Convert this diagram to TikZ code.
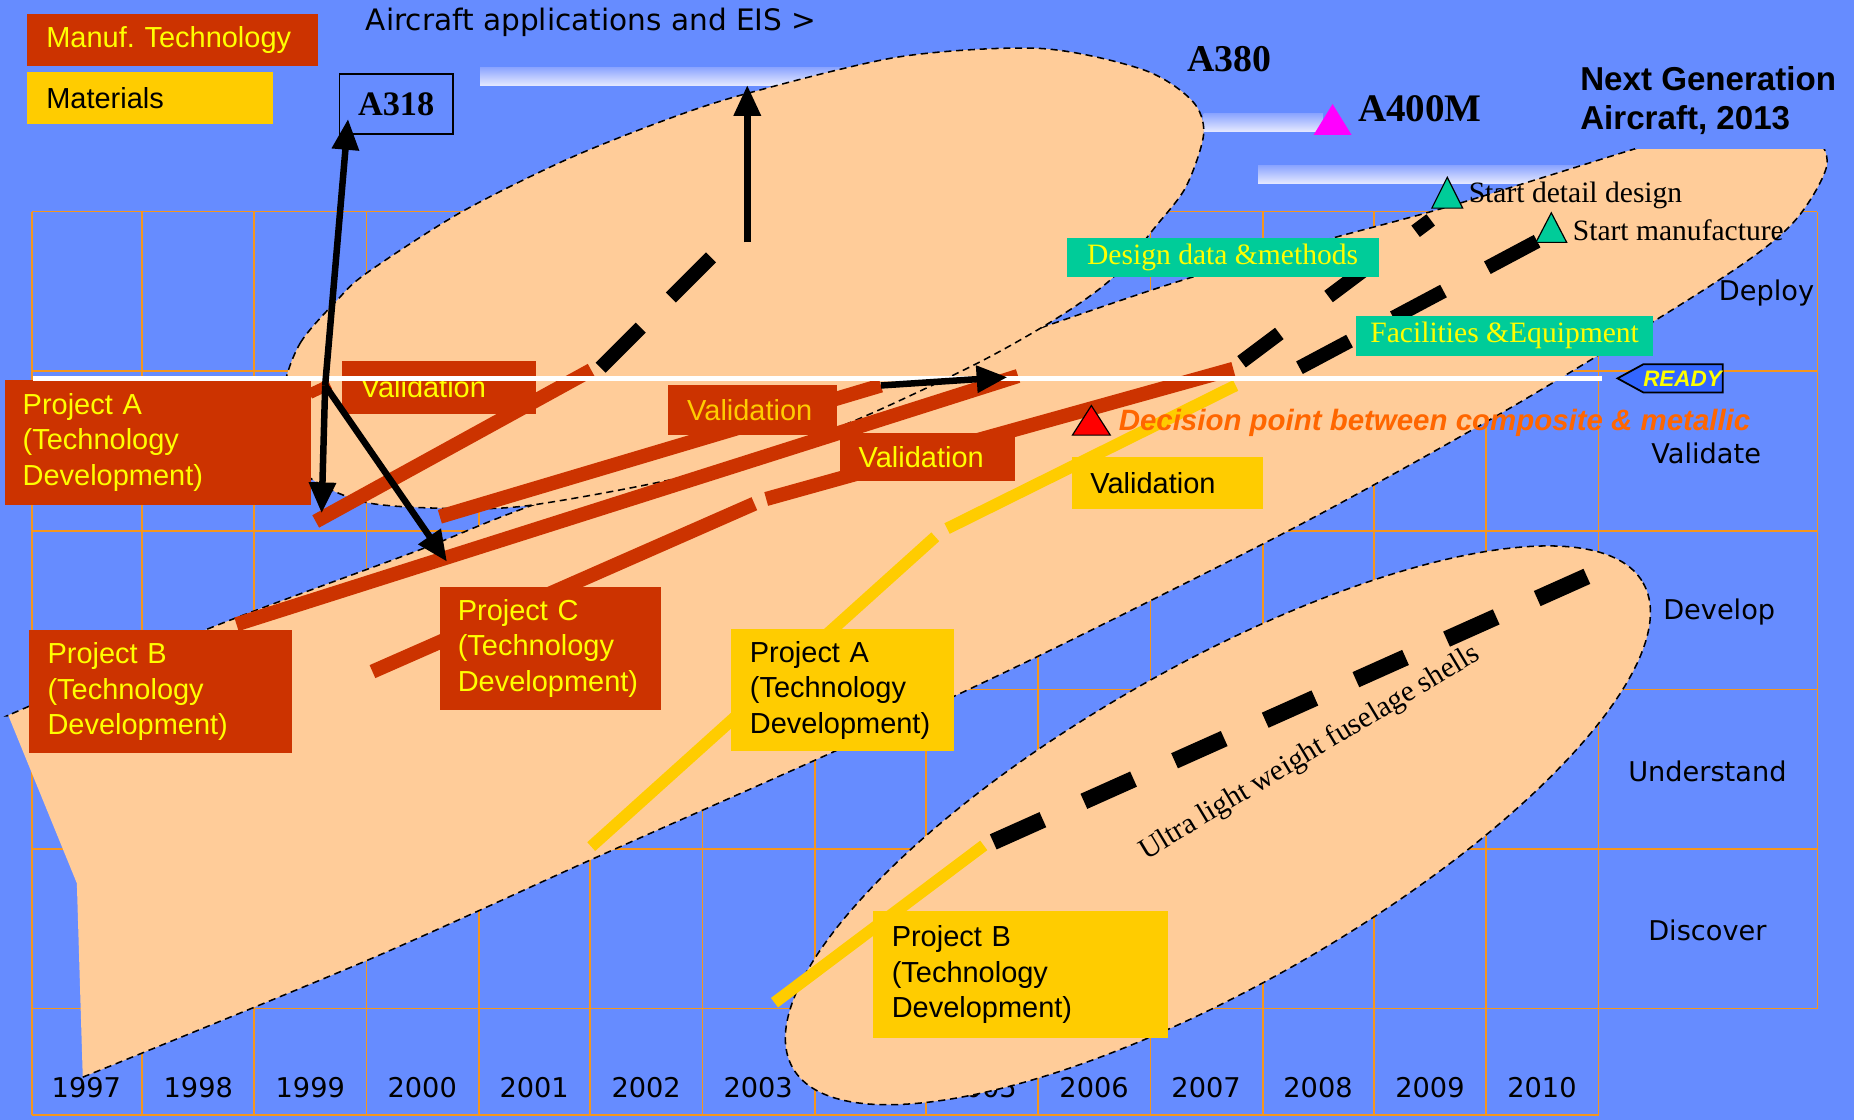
\documentclass[tikz,border=0pt]{standalone}
\usepackage{fontspec}
\setmainfont{Liberation Sans}
\newfontfamily\timesf{Liberation Serif}
\newfontfamily\verdf{DejaVu Sans}
\usetikzlibrary{arrows.meta, positioning}

\definecolor{bgblue}{RGB}{102,140,255}
\definecolor{peach}{RGB}{255,204,153}
\definecolor{manuf}{RGB}{204,51,0}
\definecolor{mater}{RGB}{255,204,0}
\definecolor{tealbox}{RGB}{0,204,153}
\definecolor{gridorange}{RGB}{245,150,30}
\definecolor{txtyellow}{RGB}{255,255,0}
\definecolor{decision}{RGB}{255,102,0}
\definecolor{readyblue}{RGB}{51,102,255}
\definecolor{barblue}{RGB}{140,165,255}
\definecolor{barlight}{RGB}{228,232,255}
\definecolor{milepink}{RGB}{255,0,255}

\newcommand\fsz[2]{\fontsize{#1}{#2}\selectfont}

\begin{document}
\begin{tikzpicture}[x=1pt, y=-1pt]
  \tikzset{
    gridln/.style={draw=gridorange, line width=1.4pt},
    rim/.style={draw=black, line width=1.3pt, dash pattern=on 6pt off 4pt},
    lightbar/.style={top color=barblue, bottom color=barlight},
    redbar/.style={draw=manuf, line width=12pt},
    goldbar/.style={draw=mater, line width=10pt},
    milestone/.style={draw=black, line width=12pt},
    bigarrow/.style={draw=black, line width=5.5pt, -{Triangle[length=26pt,width=22pt]}},
    techbox/.style={anchor=north west, inner ysep=0pt, align=left, font=\fsz{24.5}{30}},
    redbox/.style={techbox, fill=manuf, text=txtyellow},
    goldbox/.style={techbox, fill=mater, text=black},
    tealnote/.style={fill=tealbox, text=txtyellow, font=\timesf\fsz{25}{30}, inner sep=0pt},
    plane/.style={font=\timesf\bfseries\fsz{31}{36}},
    phase/.style={font=\verdf\fsz{23}{28}},
    marker/.style={draw=black, line width=1pt},
  }
  \useasboundingbox (0,0) rectangle (1568,947);
  \fill[bgblue] (0,0) rectangle (1568,947);

  % grid
  \foreach \gx in {27,120,215,310,405,499,594,689,783,878,973,1068,1162,1257,1352}
    \draw[gridln] (\gx,179) -- (\gx,943);
  \draw[gridln] (1537,179) -- (1537,853);
  \foreach \gy in {179,314,449,583,718,853}
    \draw[gridln] (27,\gy) -- (1537,\gy);
  \draw[gridln] (27,943) -- (1352,943);

  \foreach \yr [count=\i from 0] in {1997,...,2010}
    \node[phase] (y\yr) at ({73+94.7*\i},920) {\yr};

  % light bars
  \shade[lightbar] (406,57) rectangle (800,72);
  \shade[lightbar] (1018,96) rectangle (1119,111);
  \shade[lightbar] (1064,140) rectangle (1400,155);

  % envelopes
  \fill[peach] plot[smooth] coordinates {(70,911) (311,812) (500,727) (709,634) (878,555) (1099,444) (1279,344) (1449,240) (1515,190) (1545,140) (1530,112) (1480,106) (1420,115) (1379,127) (1224,175) (1121,203) (981,243) (700,340) (451,427) (355,465) (178,531) (23,598) (7,605)} -- (65,747) -- cycle;
  \draw[rim] plot[smooth] coordinates {(70,911) (311,812) (500,727) (709,634) (878,555) (1099,444) (1279,344) (1449,240) (1515,190) (1545,140) (1530,112) (1480,106) (1420,115) (1379,127) (1224,175) (1121,203) (981,243) (700,340) (451,427) (355,465) (178,531) (23,598) (7,605)};
  \filldraw[fill=peach, rim] plot[smooth cycle] coordinates {(240,330) (254,290) (285,254) (310,231) (389,180) (479,135) (564,101) (632,79) (761,48) (880,41) (967,59) (1008,85) (1018,113) (1003,158) (977,192) (941,235) (894,269) (823,309) (710,361) (592,400) (451,427) (381,430) (310,425) (262,404) (245,375)};
  \filldraw[fill=peach, rim, rotate around={29.7:(1030,698)}] (1030,698) ellipse [x radius=414, y radius=135];
  \fill[bgblue] (1383,60) rectangle (1568,126);

  % roadmap bars
  \draw[redbar] (267,441) -- (500,313);
  \draw[manuf, line width=9pt] (262,333) -- (279,325);
  \draw[redbar] (372,437) -- (745,326);
  \draw[redbar] (200,528) -- (861,318);
  \draw[redbar] (315,568) -- (638,426);
  \draw[redbar] (648,422) -- (1043,312);
  \draw[goldbar] (500,716) -- (791,454);
  \draw[goldbar] (801,447) -- (1045,326);
  \draw[goldbar] (655,848) -- (832,715);
  \draw[milestone, dash pattern=on 48pt off 36pt] (508,311) -- (607,212);
  \draw[milestone, dash pattern=on 40pt off 52pt] (1050,306) -- (1210,186);
  \draw[milestone, dash pattern=on 48pt off 42pt] (1099,311) -- (1300,204);
  \draw[milestone, line width=14pt, dash pattern=on 46pt off 38pt] (840,712) -- (1352,483);

  % boxes
  \node[redbox, fill=manuf, minimum height=44pt, text width=214pt, inner xsep=16pt] (legman) at (23,12) {Manuf.\ Technology};
  \node[goldbox, minimum height=44pt, text width=176pt, inner xsep=16pt] (legmat) at (23,61) {Materials};
  \node[redbox, minimum height=106pt, text width=229pt, inner xsep=15pt] (projAm) at (4,321) {Project A\\(Technology\\Development)};
  \node[redbox, minimum height=104pt, text width=191pt, inner xsep=16pt] (projBm) at (24,533) {Project B\\(Technology\\Development)};
  \node[redbox, minimum height=104pt, text width=157pt, inner xsep=15pt] (projCm) at (372,496) {Project C\\(Technology\\Development)};
  \node[goldbox, minimum height=103pt, text width=157pt, inner xsep=16pt] (projAmat) at (618,532) {Project A\\(Technology\\Development)};
  \node[goldbox, minimum height=108pt, text width=218pt, inner xsep=16pt] (projBmat) at (738,770) {Project B\\(Technology\\Development)};
  \node[redbox, minimum height=45pt, text width=132pt, inner xsep=16pt] (valZero) at (289,305) {Validation};
  \node[redbox, minimum height=43pt, text width=111pt, inner xsep=16pt, text=mater] (valOne) at (565,325) {Validation};
  \node[redbox, minimum height=41pt, text width=116pt, inner xsep=16pt] (valTwo) at (710,366) {Validation};
  \node[goldbox, minimum height=44pt, text width=130pt, inner xsep=16pt] (valMat) at (906,386) {Validation};
  \node[tealnote, minimum width=264pt, minimum height=33pt] (designdata) at (1034,217.5) {Design data \&methods};
  \node[tealnote, minimum width=251pt, minimum height=34pt] (facilities) at (1272.5,284) {Facilities \&Equipment};

  \draw[white, line width=4pt] (28,320) -- (1355,320);

  % aircraft
  \node[plane, draw, line width=1.3pt, minimum width=96pt, minimum height=51pt, font=\timesf\bfseries\fsz{29}{34}] (a318) at (335,88) {A318};
  \node[plane, font=\timesf\bfseries\fsz{32}{36}] (a380) at (1040,50) {A380};
  \node[plane, anchor=west, font=\timesf\bfseries\fsz{33}{36}] (a400m) at (1145,92) {A400M};
  \node[anchor=west, align=left, font=\bfseries\fsz{28}{33}] (nextgen) at (1333,85) {Next Generation\\Aircraft, 2013};
  \node[anchor=west, font=\verdf\fsz{25}{28}] (eis) at (306,19) {Aircraft applications and EIS >};

  % arrows
  \coordinate (hub) at (275,326);
  \coordinate (projAdown) at (272,434);
  \coordinate (projCdown) at (378,475);
  \coordinate (lineTwoEnd) at (745,326);
  \coordinate (lineTwoTip) at (852,319);
  \coordinate (eisFoot) at (632,205);
  \coordinate (eisTip) at (632,72);
  \draw[bigarrow] (hub) -- ([xshift=8pt, yshift=13.5pt]a318.south west);
  \draw[bigarrow] (hub) -- (projAdown);
  \draw[bigarrow] (hub) -- (projCdown);
  \draw[bigarrow] (lineTwoEnd) -- (lineTwoTip);
  \draw[bigarrow] (eisFoot) -- (eisTip);

  % milestones
  \fill[milepink] (1127,88) -- (1143,114) -- (1111,114) -- cycle;
  \filldraw[marker, fill=tealbox] (1224,150) -- (1237,176) -- (1211,176) -- cycle;
  \filldraw[marker, fill=tealbox] (1312,180) -- (1325,205) -- (1299,205) -- cycle;
  \filldraw[marker, fill=red] (923,343) -- (939,368) -- (907,368) -- cycle;
  \node[anchor=west, font=\timesf\fsz{25}{28}, inner sep=0pt] (detail) at (1242,165) {Start detail design};
  \node[anchor=west, font=\timesf\fsz{25}{28}, inner sep=0pt] (manufacture) at (1330,195) {Start manufacture};
  \node[anchor=west, text=decision, font=\bfseries\itshape\fsz{24.9}{28}, inner sep=0pt] (decide) at (946,358) {Decision point between composite \& metallic};
  \filldraw[marker, line width=1.5pt, fill=readyblue] (1368,320) -- (1390,308) -- (1457,308) -- (1457,332) -- (1390,332) -- cycle;
  \node[text=txtyellow, font=\bfseries\itshape\fsz{19}{22}] (ready) at (1423,320) {READY};
  \node[font=\timesf\fsz{25}{28}, rotate=31] (shells) at (1108,637) {Ultra light weight fuselage shells};

  % phases
  \node[phase] (deploy) at (1494,248) {Deploy};
  \node[phase] (validate) at (1443,383) {Validate};
  \node[phase] (develop) at (1454,518) {Develop};
  \node[phase] (understand) at (1444,652) {Understand};
  \node[phase] (discover) at (1444,787) {Discover};
\end{tikzpicture}
\end{document}
